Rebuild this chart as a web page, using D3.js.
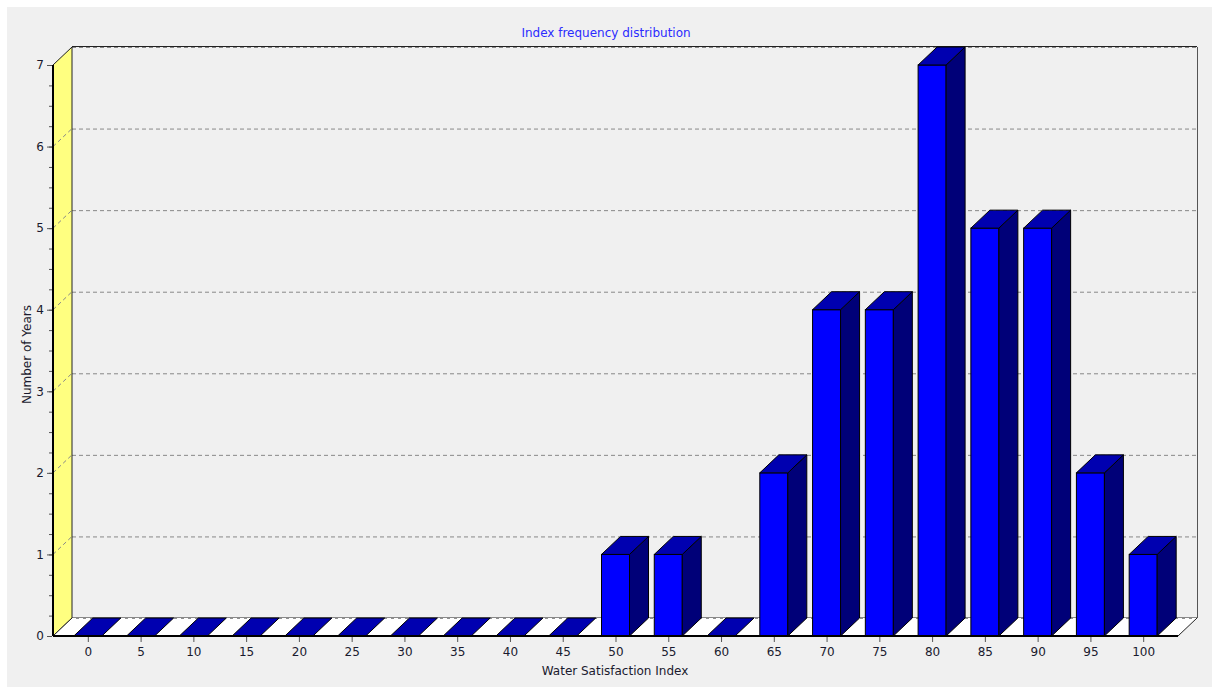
<!DOCTYPE html>
<html>
<head>
<meta charset="utf-8">
<script src="https://cdn.jsdelivr.net/npm/d3@7"></script>
<style>
  body { margin: 0; background: #fff; }
  text { font-family: "DejaVu Sans", sans-serif; }
</style>
</head>
<body>
<script>
const WIDTH = 1212;
const HEIGHT = 687;

// data
const categories = ["0", "5", "10", "15", "20", "25", "30", "35", "40", "45", "50",
                    "55", "60", "65", "70", "75", "80", "85", "90", "95", "100"];
const counts = [0, 0, 0, 0, 0, 0, 0, 0, 0, 0, 1, 1, 0, 2, 4, 4, 7, 5, 5, 2, 1];
const yTicks = [0, 1, 2, 3, 4, 5, 6, 7];
const title = "Index frequency distribution";
const xTitle = "Water Satisfaction Index";
const yTitle = "Number of Years";

// 3d depth offset
const DX = 19, DY = -18;
const BAR_W = 28;
const PLOT_L = 53, PLOT_R = 1178, PLOT_B = 636, PLOT_T = 65;
const FONT = "DejaVu Sans, sans-serif";

let svg = d3.select("body")
            .append("svg")
            .attr("width", WIDTH)
            .attr("height", HEIGHT);

svg.append("rect")
   .attr("x", 7).attr("y", 7)
   .attr("width", WIDTH - 7).attr("height", HEIGHT - 7)
   .attr("fill", "#f0f0f0");

let x = d3.scalePoint().domain(categories).range([PLOT_L, PLOT_R]).padding(0.66);
let y = d3.scaleLinear().domain([0, 7]).range([PLOT_B, PLOT_T]);

const pts = p => p.map(d => d.join(",")).join(" ");

// back wall grid
svg.selectAll("line.grid")
   .data(yTicks.filter(v => v > 0))
   .enter().append("line")
   .attr("class", "grid")
   .attr("x1", PLOT_L + DX).attr("x2", PLOT_R + DX)
   .attr("y1", d => y(d) + DY + 0.5).attr("y2", d => y(d) + DY + 0.5)
   .attr("stroke", "#888").attr("stroke-dasharray", "4,3");

// back wall frame
svg.append("line")
   .attr("x1", PLOT_L + DX).attr("x2", PLOT_R + DX)
   .attr("y1", y(7) + DY - 0.5).attr("y2", y(7) + DY - 0.5)
   .attr("stroke", "#222");
svg.append("line")
   .attr("x1", PLOT_R + DX + 0.5).attr("x2", PLOT_R + DX + 0.5)
   .attr("y1", y(7) + DY).attr("y2", PLOT_B + DY)
   .attr("stroke", "#555");

// left wall
svg.append("polygon")
   .attr("points", pts([[PLOT_L, PLOT_B], [PLOT_L, y(7)], [PLOT_L + DX, y(7) + DY], [PLOT_L + DX, PLOT_B + DY]]))
   .attr("fill", "#ffff80").attr("stroke", "#222").attr("stroke-width", 1);

svg.selectAll("line.wallgrid")
   .data(yTicks.filter(v => v > 0 && v < 7))
   .enter().append("line")
   .attr("class", "wallgrid")
   .attr("x1", PLOT_L).attr("y1", d => y(d))
   .attr("x2", PLOT_L + DX).attr("y2", d => y(d) + DY)
   .attr("stroke", "#888").attr("stroke-dasharray", "4,3");

// floor
svg.append("polygon")
   .attr("points", pts([[PLOT_L, PLOT_B], [PLOT_L + DX, PLOT_B + DY], [PLOT_R + DX, PLOT_B + DY], [PLOT_R, PLOT_B]]))
   .attr("fill", "#fff").attr("stroke", "#222").attr("stroke-width", 1);
svg.append("line")
   .attr("x1", PLOT_L + DX).attr("x2", PLOT_R + DX)
   .attr("y1", PLOT_B + DY + 0.5).attr("y2", PLOT_B + DY + 0.5)
   .attr("stroke", "#fff").attr("stroke-dasharray", "4,3");

// bars
let bars = svg.selectAll("g.bar")
              .data(categories.map((c, i) => ({ cat: c, val: counts[i] })))
              .enter().append("g")
              .attr("class", "bar");

bars.each(function(d) {
  const g = d3.select(this);
  const x0 = x(d.cat) - BAR_W / 2, x1 = x(d.cat) + BAR_W / 2;
  const yt = y(d.val);
  if (d.val > 0) {
    g.append("rect")
     .attr("x", x0).attr("y", yt)
     .attr("width", BAR_W).attr("height", PLOT_B - yt)
     .attr("fill", "#0000ff").attr("stroke", "#000");
    g.append("polygon")
     .attr("points", pts([[x1, yt], [x1 + DX, yt + DY], [x1 + DX, PLOT_B + DY], [x1, PLOT_B]]))
     .attr("fill", "#000078").attr("stroke", "#000");
  }
  g.append("polygon")
   .attr("points", pts([[x0, yt], [x0 + DX, yt + DY], [x1 + DX, yt + DY], [x1, yt]]))
   .attr("fill", "#0000b0").attr("stroke", "#000");
});

// front floor edge + y axis line
svg.append("line")
   .attr("x1", PLOT_L).attr("x2", PLOT_R)
   .attr("y1", PLOT_B).attr("y2", PLOT_B)
   .attr("stroke", "#000").attr("stroke-width", 2);
svg.append("line")
   .attr("x1", PLOT_L).attr("x2", PLOT_L)
   .attr("y1", y(7)).attr("y2", PLOT_B)
   .attr("stroke", "#000").attr("stroke-width", 2);

// axes
let xAxis = svg.append("g")
   .attr("transform", `translate(0,${PLOT_B + 1})`)
   .call(d3.axisBottom(x).tickSize(5).tickPadding(5));
xAxis.select(".domain").remove();
xAxis.selectAll("line").attr("stroke", "#555");
xAxis.selectAll("text").attr("font-size", 12).attr("fill", "#1a1a2e")
     .attr("font-family", FONT);

let yMinor = svg.append("g")
   .attr("transform", `translate(${PLOT_L - 1},0)`)
   .call(d3.axisLeft(y).tickValues(d3.range(0, 7.01, 0.25)).tickSize(3).tickFormat(""));
yMinor.select(".domain").remove();
yMinor.selectAll("line").attr("stroke", "#555");

let yAxis = svg.append("g")
   .attr("transform", `translate(${PLOT_L - 1},0)`)
   .call(d3.axisLeft(y).tickValues(yTicks).tickSize(5).tickPadding(3).tickFormat(d3.format("d")));
yAxis.select(".domain").remove();
yAxis.selectAll("line").attr("stroke", "#555");
yAxis.selectAll("text").attr("font-size", 12).attr("fill", "#1a1a2e")
     .attr("font-family", FONT);

// titles
svg.append("text")
   .attr("x", 606).attr("y", 37)
   .attr("text-anchor", "middle")
   .attr("font-size", 12).attr("fill", "#2b2bff")
   .text(title);

svg.append("text")
   .attr("x", 615).attr("y", 675)
   .attr("text-anchor", "middle")
   .attr("font-size", 12).attr("fill", "#1a1a2e")
   .text(xTitle);

svg.append("text")
   .attr("transform", `translate(31,${(y(7) + PLOT_B) / 2 + 4}) rotate(-90)`)
   .attr("text-anchor", "middle")
   .attr("font-size", 12).attr("fill", "#1a1a2e")
   .text(yTitle);
</script>
</body>
</html>
